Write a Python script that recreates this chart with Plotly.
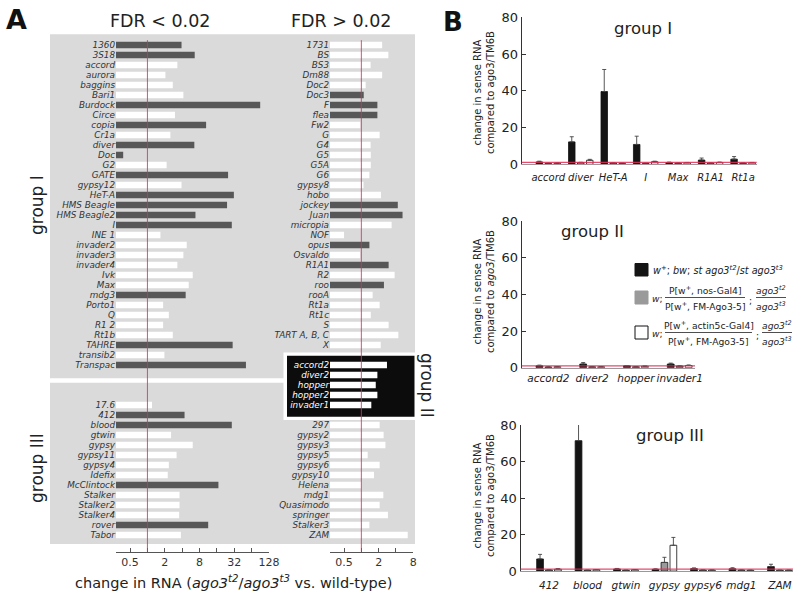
import math

import plotly.graph_objects as go

W, H = 800, 598
FONT = "DejaVu Sans"
INK = "#222222"
RED = "rgba(225, 45, 85, 0.85)"

# ---------------- panel A : ago3 mutant / wild type, fold change ----------------
# left column (FDR < 0.02), group I
a_left_g1 = ["1360", "3S18", "accord", "aurora", "baggins", "Bari1", "Burdock", "Circe", "copia",
             "Cr1a", "diver", "Doc", "G2", "GATE", "gypsy12", "HeT-A", "HMS Beagle", "HMS Beagle2",
             "I", "INE 1", "invader2", "invader3", "invader4", "Ivk", "Max", "mdg3", "Porto1", "Q",
             "R1 2", "Rt1b", "TAHRE", "transib2", "Transpac"]
a_left_g1_fold = [3.9, 6.6, 3.3, 2.05, 2.75, 4.2, 90, 3.0, 10.4,
                  2.5, 6.5, 0.38, 2.15, 25, 3.9, 31.5, 24, 6.8,
                  29, 1.68, 4.8, 4.2, 3.3, 6.1, 5.2, 4.6, 1.87, 2.35,
                  1.87, 2.75, 30, 1.97, 51]
a_left_g1_dark = [1, 1, 0, 0, 0, 0, 1, 0, 1,
                  0, 1, 1, 0, 1, 0, 1, 1, 1,
                  1, 0, 0, 0, 0, 0, 0, 1, 0, 0,
                  0, 0, 1, 0, 1]
# left column, group III
a_left_g3 = ["17.6", "412", "blood", "gtwin", "gypsy", "gypsy11", "gypsy4", "Idefix", "McClintock",
             "Stalker", "Stalker2", "Stalker4", "rover", "Tabor"]
a_left_g3_fold = [1.2, 4.4, 29, 2.57, 6.1, 3.2, 2.35, 2.25, 17, 3.6, 3.6, 3.55, 11.3, 3.8]
a_left_g3_dark = [0, 1, 1, 0, 0, 0, 0, 0, 1, 0, 0, 0, 1, 0]

# right column (FDR > 0.02), group I
a_right_g1 = ["1731", "BS", "BS3", "Dm88", "Doc2", "Doc3", "F", "flea", "Fw2", "G", "G4", "G5",
              "G5A", "G6", "gypsy8", "hobo", "jockey", "Juan", "micropia", "NOF", "opus", "Osvaldo",
              "R1A1", "R2", "roo", "rooA", "Rt1a", "Rt1c", "S", "TART A, B, C", "X"]
a_right_g1_fold = [2.3, 2.95, 1.45, 2.3, 1.19, 1.1, 1.9, 1.9, 0.96, 2.08, 1.45, 1.46,
                   1.46, 1.38, 1.09, 2.19, 4.3, 5.2, 3.36, 0.5, 1.38, 0.95,
                   2.98, 3.79, 2.47, 1.57, 2.08, 1.46, 2.98, 4.4, 2.17]
a_right_g1_dark = [0, 0, 0, 0, 0, 1, 1, 1, 0, 0, 0, 0,
                   0, 0, 0, 0, 1, 1, 0, 0, 1, 0,
                   1, 0, 1, 0, 0, 0, 0, 0, 0]
# right column, group II (black box)
a_right_g2 = ["accord2", "diver2", "hopper", "hopper2", "invader1"]
a_right_g2_fold = [2.79, 1.9, 1.78, 1.9, 1.49]
# right column, group III
a_right_g3 = ["297", "gypsy2", "gypsy3", "gypsy5", "gypsy6", "gypsy10", "Helena", "mdg1",
              "Quasimodo", "springer", "Stalker3", "ZAM"]
a_right_g3_fold = [2.08, 2.44, 2.62, 1.29, 2.08, 1.66, 1.0, 2.41, 2.08, 2.9, 1.38, 6.4]

a_ticks = [0.5, 2, 8, 32, 128]
a_minor = [1, 4, 16, 64]

# ---------------- panel B : change in sense RNA vs ago3/TM6B ----------------
b1_cats = ["accord", "diver", "HeT-A", "I", "Max", "R1A1", "Rt1a"]
b1_mut = [1.3, 12.2, 39.6, 10.8, 0.9, 2.3, 2.8]
b1_mut_err = [0.4, 2.8, 12, 4.5, 0.3, 1.1, 1.4]
b1_nos = [0.5, 0.9, 0.7, 0.5, 0.6, 0.7, 0.6]
b1_nos_err = [0.1, 0.2, 0.2, 0.1, 0.1, 0.2, 0.1]
b1_act = [0.6, 2.2, 0.5, 1.4, 0.8, 1.0, 0.8]
b1_act_err = [0.1, 0.5, 0.1, 0.3, 0.2, 0.2, 0.2]

b2_cats = ["accord2", "diver2", "hopper", "invader1"]
b2_mut = [1.0, 2.0, 1.0, 2.0]
b2_mut_err = [0.4, 0.8, 0.2, 0.5]
b2_nos = [0.4, 0.5, 0.5, 0.9]
b2_nos_err = [0.1, 0.1, 0.1, 0.2]
b2_act = [0.5, 0.5, 0.8, 1.2]
b2_act_err = [0.1, 0.1, 0.1, 0.3]

b3_cats = ["412", "blood", "gtwin", "gypsy", "gypsy6", "mdg1", "ZAM"]
b3_mut = [6.6, 71.4, 1.1, 0.9, 1.3, 1.2, 2.4]
b3_mut_err = [2.5, 9.5, 0.3, 0.3, 0.4, 0.6, 1.3]
b3_nos = [0.6, 0.4, 0.4, 4.7, 0.5, 0.5, 0.4]
b3_nos_err = [0.1, 0.1, 0.1, 2.8, 0.1, 0.1, 0.1]
b3_act = [1.0, 0.7, 0.7, 14.1, 0.5, 0.4, 0.4]
b3_act_err = [0.3, 0.1, 0.1, 4.3, 0.1, 0.1, 0.1]


def px(x):
    return x / W


def py(y):
    return 1 - y / H


DARK_BAR = "#575757"
BASE = 2 ** -1.81  # left end of the log axes

fig = go.Figure()

# ---- panel A bars ----
def a_column(groups, xa, ya):
    ys, vals, cols, texts = [], [], [], []
    for names, fold, dark, start, on_black in groups:
        for i, (n, v) in enumerate(zip(names, fold)):
            ys.append(start + i)
            vals.append(v - BASE)
            cols.append(DARK_BAR if dark and dark[i] else "#ffffff")
            if on_black:
                texts.append(f'<span style="color:white"><i>{n}</i></span>')
            else:
                texts.append(f"<i>{n}</i>")
    fig.add_trace(go.Bar(orientation="h", y=ys, x=vals, base=BASE, width=0.66,
                         marker=dict(color=cols, line_width=0), xaxis=xa, yaxis=ya,
                         showlegend=False, hoverinfo="skip"))
    return ys, texts


left_y, left_text = a_column([(a_left_g1, a_left_g1_fold, a_left_g1_dark, 0, False),
                              (a_left_g3, a_left_g3_fold, a_left_g3_dark, 36, False)], "x", "y")
right_y, right_text = a_column([(a_right_g1, a_right_g1_fold, a_right_g1_dark, 0, False),
                                (a_right_g2, a_right_g2_fold, None, 32, True),
                                (a_right_g3, a_right_g3_fold, None, 38, False)], "x2", "y2")

# ---- panel B bars ----
b_sets = [
    (b1_cats, [(b1_mut, b1_mut_err), (b1_nos, b1_nos_err), (b1_act, b1_act_err)], "x3", "y3", 0.277, 0.2),
    (b2_cats, [(b2_mut, b2_mut_err), (b2_nos, b2_nos_err), (b2_act, b2_act_err)], "x4", "y4", 0.205, 0.155),
    (b3_cats, [(b3_mut, b3_mut_err), (b3_nos, b3_nos_err), (b3_act, b3_act_err)], "x5", "y5", 0.232, 0.175),
]
fills = ["#141414", "#9a9a9a", "#ffffff"]
for cats, series, xa, ya, step, bw in b_sets:
    for k, (vals, err) in enumerate(series):
        fig.add_trace(go.Bar(
            x=list(range(len(cats))), y=vals, width=bw, offset=(k - 1) * step - bw / 2,
            marker=dict(color=fills[k], line=dict(color="#111111", width=0.8)),
            error_y=dict(type="data", array=err, arrayminus=[0] * len(err), symmetric=False,
                         color="#444444", thickness=0.9, width=2),
            xaxis=xa, yaxis=ya, showlegend=False, hoverinfo="skip"))

# ---- axes ----
a_yrange = [50.67, -1.0]
a_ydom = [py(551.7), py(35)]
a_xcommon = dict(type="log", tickvals=a_ticks, ticktext=[str(t) for t in a_ticks],
                 ticks="inside", ticklen=4, tickcolor="#555", showline=True, linecolor="#555",
                 linewidth=1, showgrid=False, zeroline=False,
                 tickfont=dict(family=FONT, size=11, color="#333"),
                 minor=dict(tickvals=a_minor, ticks="inside", ticklen=4, tickcolor="#555"))
a_ycommon = dict(range=a_yrange, domain=a_ydom, showgrid=False, zeroline=False, showline=False,
                 ticks="", tickfont=dict(family=FONT, size=8.8, color="#333"))

b_ycommon = dict(range=[0, 80], tickvals=[0, 20, 40, 60, 80], ticks="inside", ticklen=4,
                 tickcolor="#333", showline=True, linecolor="#333", linewidth=1,
                 showgrid=False, zeroline=False, tickfont=dict(family=FONT, size=13, color=INK))
b_xcommon = dict(ticks="", showline=True, linecolor="#999", linewidth=1, showgrid=False,
                 zeroline=False, tickangle=0)

fig.update_layout(
    xaxis=dict(a_xcommon, domain=[px(116), px(269)],
               range=[math.log10(BASE), math.log10(128)], anchor="y"),
    yaxis=dict(a_ycommon, tickvals=left_y, ticktext=left_text, anchor="x"),
    xaxis2=dict(a_xcommon, domain=[px(330), px(413.3)],
                range=[math.log10(BASE), math.log10(8)], anchor="y2"),
    yaxis2=dict(a_ycommon, tickvals=right_y, ticktext=right_text, anchor="x2"),
    xaxis3=dict(b_xcommon, domain=[px(521.7), px(756.7)], range=[-0.82, 6.42], anchor="y3",
                tickvals=list(range(len(b1_cats))), ticktext=[f"<i>{c}</i>" for c in b1_cats],
                tickfont=dict(family=FONT, size=10, color=INK), ticklabelstandoff=4),
    yaxis3=dict(b_ycommon, domain=[py(164.3), py(17.3)], anchor="x3"),
    xaxis4=dict(b_xcommon, domain=[px(521.7), px(695)], range=[-0.61, 3.35], anchor="y4",
                tickvals=list(range(len(b2_cats))), ticktext=[f"<i>{c}</i>" for c in b2_cats],
                tickfont=dict(family=FONT, size=10.5, color=INK), ticklabelstandoff=1),
    yaxis4=dict(b_ycommon, domain=[py(367.7), py(221)], anchor="x4"),
    xaxis5=dict(b_xcommon, domain=[px(520.5), px(793)], range=[-0.74, 6.34], anchor="y5",
                tickvals=list(range(len(b3_cats))), ticktext=[f"<i>{c}</i>" for c in b3_cats],
                tickfont=dict(family=FONT, size=10.5, color=INK), ticklabelstandoff=4),
    yaxis5=dict(b_ycommon, domain=[py(571), py(425)], anchor="x5"),
)

# ---- shapes ----
shapes = [
    # grey panel behind A
    dict(type="rect", xref="paper", yref="paper", x0=px(50), x1=px(415), y0=py(544), y1=py(34.3),
         fillcolor="#dadada", line_width=0, layer="below"),
    # white rule between group I and group III
    dict(type="rect", xref="paper", yref="paper", x0=px(50), x1=px(287), y0=py(382.7), y1=py(378.3),
         fillcolor="white", line_width=0, layer="below"),
    # group II black box with white frame
    dict(type="rect", xref="paper", yref="paper", x0=px(283.5), x1=px(418), y0=py(420), y1=py(352.5),
         fillcolor="white", line_width=0, layer="below"),
    dict(type="rect", xref="paper", yref="paper", x0=px(287), x1=px(414.5), y0=py(416.7), y1=py(355.7),
         fillcolor="#0c0c0c", line_width=0, layer="below"),
]
for xa in ["x", "x2"]:
    ya = "y" if xa == "x" else "y2"
    shapes.append(dict(type="line", xref=xa, yref=f"{ya} domain", x0=1, x1=1, y0=0, y1=0.99,
                       line=dict(color=RED, width=1), layer="above"))
for xa, ya in [("x3", "y3"), ("x4", "y4"), ("x5", "y5")]:
    shapes.append(dict(type="line", xref=f"{xa} domain", yref=ya, x0=0, x1=1, y0=1, y1=1,
                       line=dict(color=RED, width=1.2), layer="above"))

# legend swatches and fraction bars
shapes += [
    dict(type="rect", xref="paper", yref="paper", x0=px(635), x1=px(648), y0=py(276), y1=py(263.5),
         fillcolor="#141414", line=dict(color="#141414", width=1)),
    dict(type="rect", xref="paper", yref="paper", x0=px(635), x1=px(648), y0=py(304), y1=py(291),
         fillcolor="#9a9a9a", line=dict(color="#9a9a9a", width=1)),
    dict(type="rect", xref="paper", yref="paper", x0=px(635), x1=px(648), y0=py(339), y1=py(326),
         fillcolor="white", line=dict(color="#111111", width=1)),
    dict(type="line", xref="paper", yref="paper", x0=px(665), x1=px(745), y0=py(297.5), y1=py(297.5),
         line=dict(color=INK, width=0.8)),
    dict(type="line", xref="paper", yref="paper", x0=px(756), x1=px(786), y0=py(297.5), y1=py(297.5),
         line=dict(color=INK, width=0.8)),
    dict(type="line", xref="paper", yref="paper", x0=px(665), x1=px(752), y0=py(332.5), y1=py(332.5),
         line=dict(color=INK, width=0.8)),
    dict(type="line", xref="paper", yref="paper", x0=px(762), x1=px(792), y0=py(332.5), y1=py(332.5),
         line=dict(color=INK, width=0.8)),
]


# ---- text ----
def note(text, x, y, size, angle=0, xanchor="center", bold=False, color=INK):
    return dict(text=f"<b>{text}</b>" if bold else text, x=px(x), y=py(y), xref="paper",
                yref="paper", xanchor=xanchor, yanchor="middle", showarrow=False, textangle=angle,
                font=dict(family=FONT, size=size, color=color))


ago = "<i>ago3</i><sup><i>{}</i></sup>"
ytitle = "change in sense RNA<br>compared to {}/TM6B"
LEG = 9.2
annotations = [
    note("A", 16.5, 20, 27, bold=True, color="#111"),
    note("B", 452.5, 21.5, 26, bold=True, color="#111"),
    note("FDR &lt; 0.02", 160, 21, 17.5),
    note("FDR &gt; 0.02", 341, 21, 17.5),
    note("group I", 37, 205, 17, angle=-90),
    note("group III", 37, 468, 17, angle=-90),
    note("group II", 427, 386, 17, angle=90),
    note("change in RNA (" + ago.format("t2") + "/" + ago.format("t3") + " vs. wild-type)",
         233, 582, 14.5),
    note("group I", 643, 29, 16.5),
    note("group II", 592, 232, 16.5),
    note("group III", 670, 435, 16.5),
    note(ytitle.format("ago3"), 484, 93, 10, angle=-90),
    note(ytitle.format("<i>ago3</i>"), 484, 292, 10, angle=-90),
    note(ytitle.format("ago3"), 484, 496, 10, angle=-90),
    # legend
    note("<i>w</i><sup>+</sup>; <i>bw</i>; <i>st ago3</i><sup><i>t2</i></sup>/<i>st ago3</i><sup><i>t3</i></sup>",
         651, 269.5, LEG + 0.5, xanchor="left"),
    note("<i>w</i>;", 650, 298, LEG, xanchor="left"),
    note("P[w<sup>+</sup>, nos-Gal4]", 705, 289.5, LEG),
    note("P[w<sup>+</sup>, FM-Ago3-5]", 705, 305.5, LEG),
    note(";", 750.5, 300, LEG),
    note(ago.format("t2"), 771, 289.5, LEG),
    note(ago.format("t3"), 771, 305.5, LEG),
    note("<i>w</i>;", 650, 333, LEG, xanchor="left"),
    note("P[w<sup>+</sup>, actin5c-Gal4]", 708.5, 324.5, LEG),
    note("P[w<sup>+</sup>, FM-Ago3-5]", 708.5, 340.5, LEG),
    note(";", 757, 335, LEG),
    note(ago.format("t2"), 777, 324.5, LEG),
    note(ago.format("t3"), 777, 340.5, LEG),
]

fig.update_layout(
    width=W, height=H, margin=dict(l=0, r=0, t=0, b=0),
    paper_bgcolor="white", plot_bgcolor="rgba(0,0,0,0)", template="none",
    barmode="overlay", showlegend=False, shapes=shapes, annotations=annotations,
    font=dict(family=FONT, color=INK),
)

# page has a default 8px body margin; drop it so the figure sits at the window corner
fig.write_html("out.html", config={"displayModeBar": False},
               post_script="document.body.style.margin='0px';")
